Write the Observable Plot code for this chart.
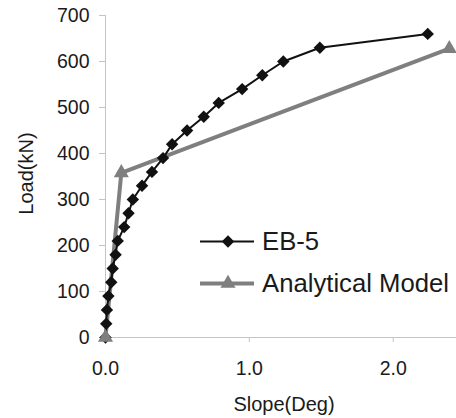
<!DOCTYPE html>
<html>
<head>
<meta charset="utf-8">
<script src="https://cdn.jsdelivr.net/npm/d3@7"></script>
<script src="https://cdn.jsdelivr.net/npm/@observablehq/plot@0.6"></script>
<style>
  html, body { margin: 0; padding: 0; background: #fff; }
  #chart svg { display: block; }
</style>
</head>
<body>
<div id="chart"></div>
<script>
// EB-5 test: load (kN) against slope (deg)
const eb5Slope = [0, 0.005, 0.01, 0.02, 0.04, 0.05, 0.07, 0.085, 0.13, 0.16, 0.19, 0.254, 0.323, 0.40, 0.463, 0.567, 0.683, 0.787, 0.95, 1.09, 1.236, 1.49, 2.24];
const eb5Load  = [0, 30, 60, 90, 120, 150, 180, 210, 240, 270, 300, 330, 360, 390, 420, 450, 480, 510, 540, 570, 600, 630, 660];

// Analytical model (bilinear)
const modelSlope = [0, 0.11, 2.39];
const modelLoad  = [0, 358, 628];

// Axis ticks
const yTicks = [0, 100, 200, 300, 400, 500, 600, 700];
const xTicks = [0, 1, 2];

// Series names
const seriesNames = ["EB-5", "Analytical Model"];

const eb5 = eb5Slope.map((s, i) => ({slope: s, load: eb5Load[i]}));
const model = modelSlope.map((s, i) => ({slope: s, load: modelLoad[i]}));

const black = "#111111";
const gray = "#7f7f7f";
const axisGray = "#c4c4c4";
const font = "'Liberation Sans', Arial, Helvetica, sans-serif";

const chart = Plot.plot({
  width: 456,
  height: 418,
  marginLeft: 105,
  marginRight: 0,
  marginTop: 15,
  marginBottom: 81,
  style: {fontFamily: font, fontSize: "19.5px", color: "#1a1a1a", background: "#fff"},
  x: {domain: [0, 2.44]},
  y: {domain: [0, 700]},
  marks: [
    Plot.ruleY([0], {stroke: axisGray, strokeWidth: 1}),
    Plot.ruleX([0], {y1: 0, y2: 700, stroke: axisGray, strokeWidth: 1}),
    Plot.axisY({ticks: yTicks, tickSize: 6, tickPadding: 10, stroke: axisGray, fill: "#1a1a1a", label: null}),
    Plot.axisX({ticks: xTicks, tickSize: 5, tickPadding: 19, tickFormat: d3.format(".1f"), stroke: axisGray, fill: "#1a1a1a", label: null}),
    Plot.text(["Slope(Deg)"], {frameAnchor: "bottom", textAnchor: "middle", dx: 3, dy: 67, lineAnchor: "middle", fontSize: 20, fill: "#1a1a1a"}),
    Plot.text(["Load(kN)"], {frameAnchor: "left", textAnchor: "middle", rotate: -90, dx: -79, dy: -3, lineAnchor: "middle", fontSize: 20, fill: "#1a1a1a"}),
    Plot.line(model, {x: "slope", y: "load", stroke: gray, strokeWidth: 4}),
    Plot.line(eb5, {x: "slope", y: "load", stroke: black, strokeWidth: 2}),
    Plot.dot(eb5, {x: "slope", y: "load", symbol: "diamond2", r: 5.6, fill: black, stroke: "none"}),
    Plot.dot(model, {x: "slope", y: "load", symbol: "triangle", r: 5.6, fill: gray, stroke: "none"})
  ]
});

// Legend drawn inside the plotting area
const svg = d3.select(chart);
const legend = svg.append("g")
  .attr("font-family", font)
  .attr("font-size", 25.7)
  .attr("text-anchor", "start")
  .attr("fill", "#1a1a1a");
const items = [
  {name: seriesNames[0], y: 241.5, stroke: black, width: 2, symbol: d3.symbolDiamond2},
  {name: seriesNames[1], y: 283.5, stroke: gray, width: 4, symbol: d3.symbolTriangle}
];
for (const it of items) {
  legend.append("line")
    .attr("x1", 200).attr("x2", 254).attr("y1", it.y).attr("y2", it.y)
    .attr("stroke", it.stroke).attr("stroke-width", it.width);
  legend.append("path")
    .attr("transform", `translate(228,${it.y})`)
    .attr("d", d3.symbol(it.symbol, Math.PI * 5.6 * 5.6)())
    .attr("fill", it.stroke);
  legend.append("text")
    .attr("x", 262).attr("y", it.y).attr("dy", "0.35em")
    .attr("text-anchor", "start")
    .text(it.name);
}

document.getElementById("chart").appendChild(chart);
</script>
</body>
</html>
